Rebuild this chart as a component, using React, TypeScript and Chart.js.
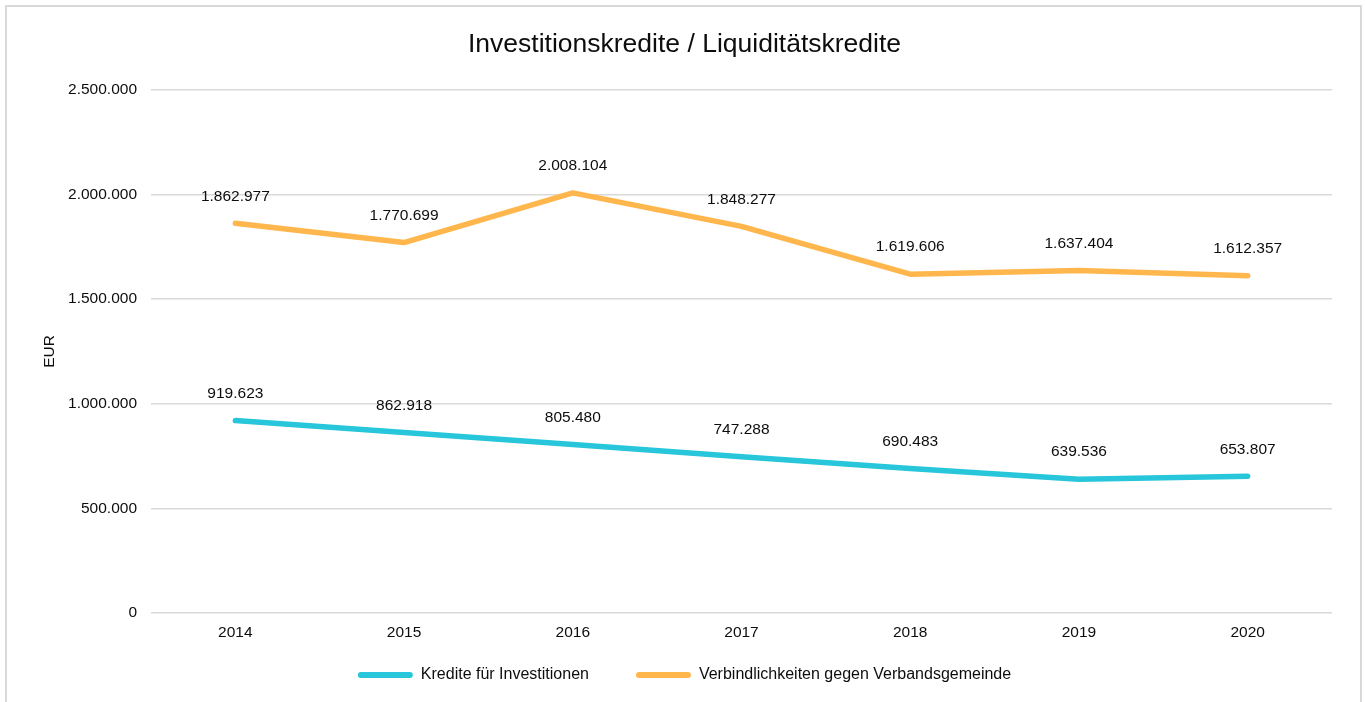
import React, { useEffect, useRef } from "react";
import { Chart, registerables } from "chart.js";

Chart.register(...registerables);

const categories = ["2014", "2015", "2016", "2017", "2018", "2019", "2020"];
const krediteInvestitionen = [919623, 862918, 805480, 747288, 690483, 639536, 653807];
const verbindlichkeitenVG = [1862977, 1770699, 2008104, 1848277, 1619606, 1637404, 1612357];
const seriesNames = ["Kredite für Investitionen", "Verbindlichkeiten gegen Verbandsgemeinde"];
const seriesColors = ["#27C6DA", "#FFB74D"];
const titleText = "Investitionskredite / Liquiditätskredite";
const yAxisTitle = "EUR";
const yMin = 0;
const yMax = 2500000;
const yStep = 500000;

const FONT = '"Liberation Sans", Arial, sans-serif';
const TEXT = "#0d0d0d";
const LEGEND_PAD = 47;
const LEGEND_FONT = 16;
const LEGEND_CENTER_Y = 675;

function fmt(v: number): string {
  const s = Math.round(v).toString();
  return s.replace(/\B(?=(\d{3})+(?!\d))/g, ".");
}

const dataLabelPlugin = {
  id: "dataLabels",
  afterDatasetsDraw(chart: any) {
    const ctx = chart.ctx;
    ctx.save();
    ctx.font = `15.5px ${FONT}`;
    ctx.fillStyle = TEXT;
    ctx.textAlign = "center";
    ctx.textBaseline = "middle";
    chart.data.datasets.forEach((ds: any, di: number) => {
      const meta = chart.getDatasetMeta(di);
      meta.data.forEach((pt: any, i: number) => {
        ctx.fillText(fmt(ds.data[i]), pt.x, pt.y - 27);
      });
    });
    ctx.restore();
  },
};

const legendShiftPlugin = {
  id: "legendShift",
  afterLayout(chart: any) {
    const lg = chart.legend;
    if (!lg) return;
    const dy = LEGEND_CENTER_Y - (lg.top + LEGEND_PAD + LEGEND_FONT / 2);
    lg.top += dy;
    lg.bottom = chart.height;
    lg.height = lg.bottom - lg.top;
  },
};

export default function App() {
  const ref = useRef<HTMLCanvasElement | null>(null);
  useEffect(() => {
    if (!ref.current) return;
    const chart = new Chart(ref.current, {
      type: "line",
      data: {
        labels: categories,
        datasets: [
          {
            label: seriesNames[0],
            data: krediteInvestitionen,
            borderColor: seriesColors[0],
            backgroundColor: seriesColors[0],
            borderWidth: 5.5,
            borderCapStyle: "round",
            borderJoinStyle: "round",
            pointRadius: 0,
            tension: 0,
          },
          {
            label: seriesNames[1],
            data: verbindlichkeitenVG,
            borderColor: seriesColors[1],
            backgroundColor: seriesColors[1],
            borderWidth: 5.5,
            borderCapStyle: "round",
            borderJoinStyle: "round",
            pointRadius: 0,
            tension: 0,
          },
        ],
      },
      options: {
        animation: false,
        responsive: false,
        devicePixelRatio: 1,
        layout: { padding: { left: 37, right: 33, top: 0, bottom: 0 } },
        font: { family: FONT },
        plugins: {
          title: {
            display: true,
            text: titleText,
            color: TEXT,
            font: { family: FONT, size: 26.5, weight: "normal" },
            padding: { top: 29, bottom: 29.2 },
          },
          legend: {
            position: "bottom",
            maxHeight: 50,
            labels: {
              color: TEXT,
              font: { family: FONT, size: LEGEND_FONT },
              boxWidth: 55,
              boxHeight: 6,
              padding: LEGEND_PAD,
              useBorderRadius: true,
              borderRadius: 3,
              generateLabels: (c: any) =>
                c.data.datasets.map((ds: any, i: number) => ({
                  text: ds.label,
                  fillStyle: ds.borderColor,
                  strokeStyle: ds.borderColor,
                  lineWidth: 0,
                  datasetIndex: i,
                  hidden: false,
                  fontColor: TEXT,
                  borderRadius: 3,
                })),
            },
          },
          tooltip: { enabled: false },
        },
        scales: {
          x: {
            offset: true,
            grid: { display: false, drawTicks: false },
            border: { display: false },
            ticks: { color: TEXT, font: { family: FONT, size: 15.5 }, padding: 10.2, maxRotation: 0 },
          },
          y: {
            min: yMin,
            max: yMax,
            grid: { color: "#d9d9d9", lineWidth: 1.5, drawTicks: false },
            border: { display: false },
            ticks: {
              stepSize: yStep,
              color: TEXT,
              font: { family: FONT, size: 15.5 },
              padding: 14,
              callback: (v: any) => fmt(Number(v)),
            },
            title: {
              display: true,
              text: yAxisTitle,
              color: TEXT,
              font: { family: FONT, size: 15.5 },
              padding: { top: 3, bottom: 0 },
            },
            afterFit: (s: any) => {
              s.width = 114;
            },
          },
        },
      },
      plugins: [dataLabelPlugin, legendShiftPlugin],
    } as any);
    return () => chart.destroy();
  }, []);

  return (
    <>
      <div
        style={{
          position: "fixed",
          left: 5,
          top: 5,
          width: 1357,
          height: 720,
          boxSizing: "border-box",
          border: "2px solid #d9d9d9",
          background: "#fff",
        }}
      />
      <div style={{ position: "fixed", left: 0, top: 0, width: 1365, height: 702 }}>
        <canvas ref={ref} width={1365} height={702} style={{ display: "block", width: 1365, height: 702 }} />
      </div>
    </>
  );
}
